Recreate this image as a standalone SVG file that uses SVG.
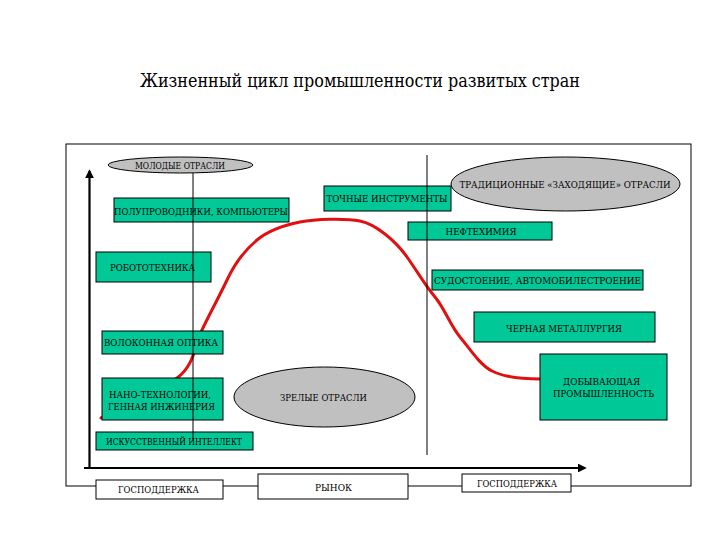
<svg xmlns="http://www.w3.org/2000/svg" width="720" height="540" viewBox="0 0 720 540">
<style>
text{font-family:"DejaVu Serif","Liberation Serif","Times New Roman",Tinos,"Noto Serif",FreeSerif,serif;font-size:9.5px;fill:#000;text-anchor:middle;dominant-baseline:central}
.t{font-size:19px}
.g{fill:#00C896;stroke:#000;stroke-width:1}
.e{fill:#C0C0C0;stroke:#000;stroke-width:1}
.w{fill:#fff;stroke:#000;stroke-width:1}
.ln{stroke:#000;stroke-width:1;fill:none}
.ax{stroke:#000;stroke-width:2.2;fill:none}
.cv{stroke:#E01010;stroke-width:3;fill:none;stroke-linecap:round;stroke-linejoin:round}
</style>
<defs>
<marker id="ah" viewBox="0 0 10 10" refX="8" refY="5" markerWidth="4" markerHeight="4" orient="auto" markerUnits="strokeWidth">
<path d="M0,0L10,5L0,10z" fill="#000"/>
</marker>
</defs>
<rect width="720" height="540" fill="#fff"/>
<text class="t" x="360" y="80" textLength="440" lengthAdjust="spacingAndGlyphs">Жизненный цикл промышленности развитых стран</text>
<rect x="66" y="144" width="625" height="342" fill="none" stroke="#000" stroke-width="1"/>

<g id="connectors">
<path class="cv" d="M101,418 C120,405 160,390 177,378 S195,345 202,330 S220,295 227,280 S245,250 257,240 S285,225 300,222 S345,218 360,221 S395,240 407,257 S425,285 435,297 S450,325 460,337 S480,365 492,371 S520,379 540,379"/>
</g>

<g id="n-molodye"><ellipse class="e" cx="180.5" cy="165" rx="72.5" ry="8"/><text x="180" y="165" textLength="90" lengthAdjust="spacingAndGlyphs">МОЛОДЫЕ ОТРАСЛИ</text></g>
<g id="n-tradic"><ellipse class="e" cx="565.5" cy="184" rx="114.5" ry="27"/><text x="565" y="184" textLength="211" lengthAdjust="spacingAndGlyphs">ТРАДИЦИОННЫЕ «ЗАХОДЯЩИЕ» ОТРАСЛИ</text></g>
<g id="n-poluprov"><rect class="g" x="114" y="198" width="175" height="24"/><text x="201" y="211" textLength="174" lengthAdjust="spacingAndGlyphs">ПОЛУПРОВОДНИКИ, КОМПЬЮТЕРЫ</text></g>
<g id="n-tochnye"><rect class="g" x="324" y="186" width="127" height="25"/><text x="387" y="198" textLength="121" lengthAdjust="spacingAndGlyphs">ТОЧНЫЕ ИНСТРУМЕНТЫ</text></g>
<g id="n-neft"><rect class="g" x="408" y="222" width="144" height="18"/><text x="481" y="231" textLength="71" lengthAdjust="spacingAndGlyphs">НЕФТЕХИМИЯ</text></g>
<g id="n-robot"><rect class="g" x="96" y="252" width="115" height="30"/><text x="152.5" y="267" textLength="85" lengthAdjust="spacingAndGlyphs">РОБОТОТЕХНИКА</text></g>
<g id="n-sudo"><rect class="g" x="432" y="270" width="211" height="20"/><text x="537.5" y="280" textLength="207" lengthAdjust="spacingAndGlyphs">СУДОСТОЕНИЕ, АВТОМОБИЛЕСТРОЕНИЕ</text></g>
<g id="n-chern"><rect class="g" x="474" y="312" width="181" height="30"/><text x="564" y="328" textLength="116" lengthAdjust="spacingAndGlyphs">ЧЕРНАЯ МЕТАЛЛУРГИЯ</text></g>
<g id="n-volok"><rect class="g" x="102" y="331" width="121" height="23"/><text x="161" y="342" textLength="114" lengthAdjust="spacingAndGlyphs">ВОЛОКОННАЯ ОПТИКА</text></g>
<g id="n-dobyv"><rect class="g" x="540" y="354" width="127" height="66"/><text x="601.5" y="381" textLength="77" lengthAdjust="spacingAndGlyphs">ДОБЫВАЮЩАЯ</text><text x="603.5" y="393" textLength="101" lengthAdjust="spacingAndGlyphs">ПРОМЫШЛЕННОСТЬ</text></g>
<g id="n-nano"><rect class="g" x="102" y="378" width="121" height="42"/><text x="160" y="394" textLength="102" lengthAdjust="spacingAndGlyphs">НАНО-ТЕХНОЛОГИИ,</text><text x="161.5" y="406" textLength="107" lengthAdjust="spacingAndGlyphs">ГЕННАЯ ИНЖИНЕРИЯ</text></g>
<g id="n-zrelye"><ellipse class="e" cx="324.5" cy="397" rx="90.5" ry="30"/><text x="323.5" y="397" textLength="87" lengthAdjust="spacingAndGlyphs">ЗРЕЛЫЕ ОТРАСЛИ</text></g>
<g id="n-iskus"><rect class="g" x="96" y="432" width="157" height="18"/><text x="174" y="441" textLength="136" lengthAdjust="spacingAndGlyphs">ИСКУССТВЕННЫЙ ИНТЕЛЛЕКТ</text></g>

<g id="lines">
<line class="ln" x1="193" y1="173" x2="193" y2="440"/>
<line class="ln" x1="427" y1="155" x2="427" y2="455"/>
<line class="ax" x1="89.5" y1="468" x2="89.5" y2="171" marker-end="url(#ah)"/>
<line class="ax" x1="84" y1="468" x2="585" y2="468" marker-end="url(#ah)"/>
</g>

<g id="n-gos1"><rect class="w" x="96" y="480" width="127" height="19"/><text x="158.5" y="489.5" textLength="81" lengthAdjust="spacingAndGlyphs">ГОСПОДДЕРЖКА</text></g>
<g id="n-rynok"><rect class="w" x="258" y="474" width="150" height="25"/><text x="333.5" y="487" textLength="37" lengthAdjust="spacingAndGlyphs">РЫНОК</text></g>
<g id="n-gos2"><rect class="w" x="462" y="474" width="109" height="18"/><text x="517" y="483" textLength="80" lengthAdjust="spacingAndGlyphs">ГОСПОДДЕРЖКА</text></g>
</svg>
